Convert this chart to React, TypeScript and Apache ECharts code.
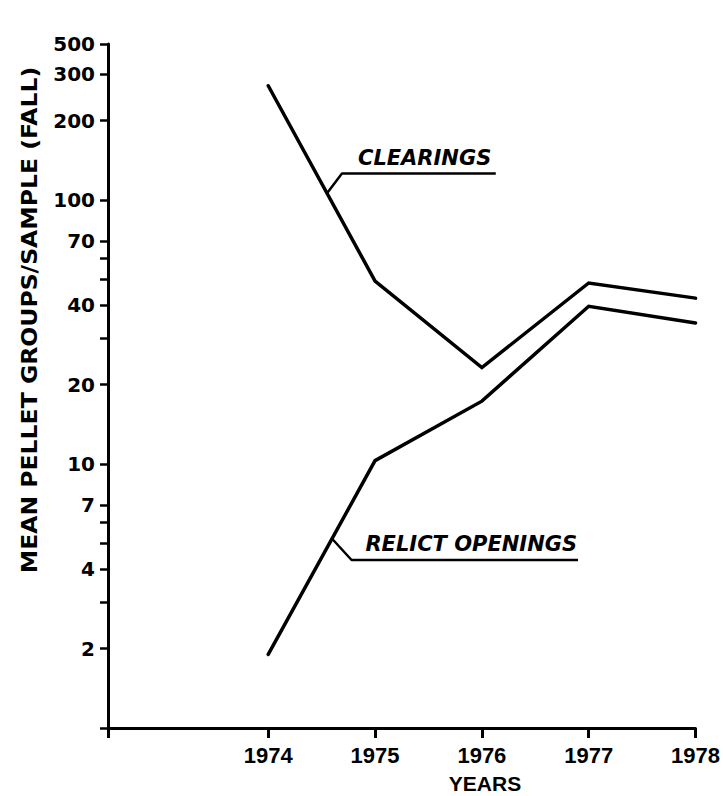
import React, { useEffect, useRef } from "react";
import * as echarts from "echarts";

// ---- data ----
const years = [1974, 1975, 1976, 1977, 1978];
const clearings = [271, 49.3, 23.2, 48.5, 42.5];
const relictOpenings = [1.9, 10.3, 17.3, 39.6, 34.2];

// y axis tick marks and labels (top of the axis is labelled "500" in the original)
const yTickMarks = [1, 2, 3, 4, 5, 6, 7, 10, 20, 30, 40, 50, 60, 70, 100, 200, 300, 390];
const yLabelValues = [2, 4, 7, 10, 20, 40, 70, 100, 200, 300, 390];
const yLabelTexts = ["2", "4", "7", "10", "20", "40", "70", "100", "200", "300", "500"];
const xTickMarks = [1972.5, 1974, 1975, 1976, 1977, 1978];

// annotation leaders (data coordinates)
const clearingsLeader = [
  [1974.55, 106],
  [1974.69, 126],
  [1976.13, 126],
];
const relictLeader = [
  [1974.6, 5.2],
  [1974.78, 4.33],
  [1976.9, 4.33],
];
const clearingsLabelAnchor = [1974.84, 126];
const relictLabelAnchor = [1974.91, 4.33];

export default function App() {
  const ref = useRef<HTMLDivElement>(null);

  useEffect(() => {
    document.body.style.margin = "0";
    const chart = echarts.init(ref.current as HTMLDivElement, null, { renderer: "svg" });
    const black = "#000";
    const labelFor = (v: number) => {
      const i = yLabelValues.findIndex((t) => Math.abs(Math.log10(t) - Math.log10(v)) < 1e-4);
      return i >= 0 ? yLabelTexts[i] : "";
    };
    const option: any = {
      animation: false,
      backgroundColor: "#fff",
      grid: { left: 108, top: 44, right: 23, bottom: 68, containLabel: false },
      xAxis: {
        type: "value",
        min: 1972.5,
        max: 1978,
        splitLine: { show: false },
        axisLine: { show: true, lineStyle: { color: black, width: 3 } },
        axisTick: {
          show: true,
          length: 10,
          customValues: xTickMarks,
          lineStyle: { color: black, width: 3 },
        },
        axisLabel: {
          customValues: years,
          formatter: (v: number) => String(Math.round(v)),
          fontFamily: "Liberation Sans",
          fontWeight: "bold",
          fontSize: 22,
          color: black,
          margin: 16,
        },
      },
      yAxis: {
        type: "log",
        logBase: 10,
        min: 1,
        max: 390,
        splitLine: { show: false },
        minorTick: { show: false },
        axisLine: { show: true, lineStyle: { color: black, width: 3 } },
        axisTick: {
          show: true,
          length: 8,
          customValues: yTickMarks,
          lineStyle: { color: black, width: 2.5 },
        },
        axisLabel: {
          customValues: yLabelValues,
          formatter: (v: number) => labelFor(v),
          fontFamily: "DejaVu Sans",
          fontWeight: "bold",
          fontSize: 20,
          color: black,
          margin: 13,
        },
      },
      series: [
        {
          name: "Clearings",
          type: "line",
          data: years.map((y, i) => [y, clearings[i]]),
          symbol: "none",
          silent: true,
          lineStyle: { color: black, width: 3.5, cap: "round", join: "miter" },
        },
        {
          name: "Relict openings",
          type: "line",
          data: years.map((y, i) => [y, relictOpenings[i]]),
          symbol: "none",
          silent: true,
          lineStyle: { color: black, width: 3.5, cap: "round", join: "miter" },
        },
        {
          name: "clearings-leader",
          type: "line",
          data: clearingsLeader,
          symbol: "none",
          silent: true,
          lineStyle: { color: black, width: 2.5 },
        },
        {
          name: "relict-leader",
          type: "line",
          data: relictLeader,
          symbol: "none",
          silent: true,
          lineStyle: { color: black, width: 2.5 },
        },
      ],
    };
    chart.setOption(option);

    const pc = chart.convertToPixel({ gridIndex: 0 }, clearingsLabelAnchor) as number[];
    const pr = chart.convertToPixel({ gridIndex: 0 }, relictLabelAnchor) as number[];
    chart.setOption({
      graphic: [
        {
          type: "text",
          x: pc[0],
          y: pc[1] - 5,
          silent: true,
          style: {
            text: "CLEARINGS",
            fontFamily: "DejaVu Sans",
            fontWeight: "bold",
            fontStyle: "italic",
            fontSize: 21,
            fill: black,
            align: "left",
            verticalAlign: "bottom",
          },
        },
        {
          type: "text",
          x: pr[0],
          y: pr[1] - 5,
          silent: true,
          style: {
            text: "RELICT OPENINGS",
            fontFamily: "DejaVu Sans",
            fontWeight: "bold",
            fontStyle: "italic",
            fontSize: 21,
            fill: black,
            align: "left",
            verticalAlign: "bottom",
          },
        },
        {
          type: "text",
          x: 29.5,
          y: 320,
          rotation: Math.PI / 2,
          scaleX: 1.07,
          silent: true,
          style: {
            text: "MEAN PELLET GROUPS/SAMPLE (FALL)",
            fontFamily: "DejaVu Sans",
            fontWeight: "bold",
            fontSize: 22,
            fill: black,
            align: "center",
            verticalAlign: "middle",
          },
        },
        {
          type: "text",
          x: 485,
          y: 783,
          silent: true,
          style: {
            text: "YEARS",
            fontFamily: "Liberation Sans",
            fontWeight: "bold",
            fontSize: 21,
            fill: black,
            align: "center",
            verticalAlign: "middle",
          },
        },
      ],
    });

    return () => {
      chart.dispose();
    };
  }, []);

  return (
    <div
      ref={ref}
      style={{ position: "absolute", left: 0, top: 0, width: 723, height: 796 }}
    />
  );
}
